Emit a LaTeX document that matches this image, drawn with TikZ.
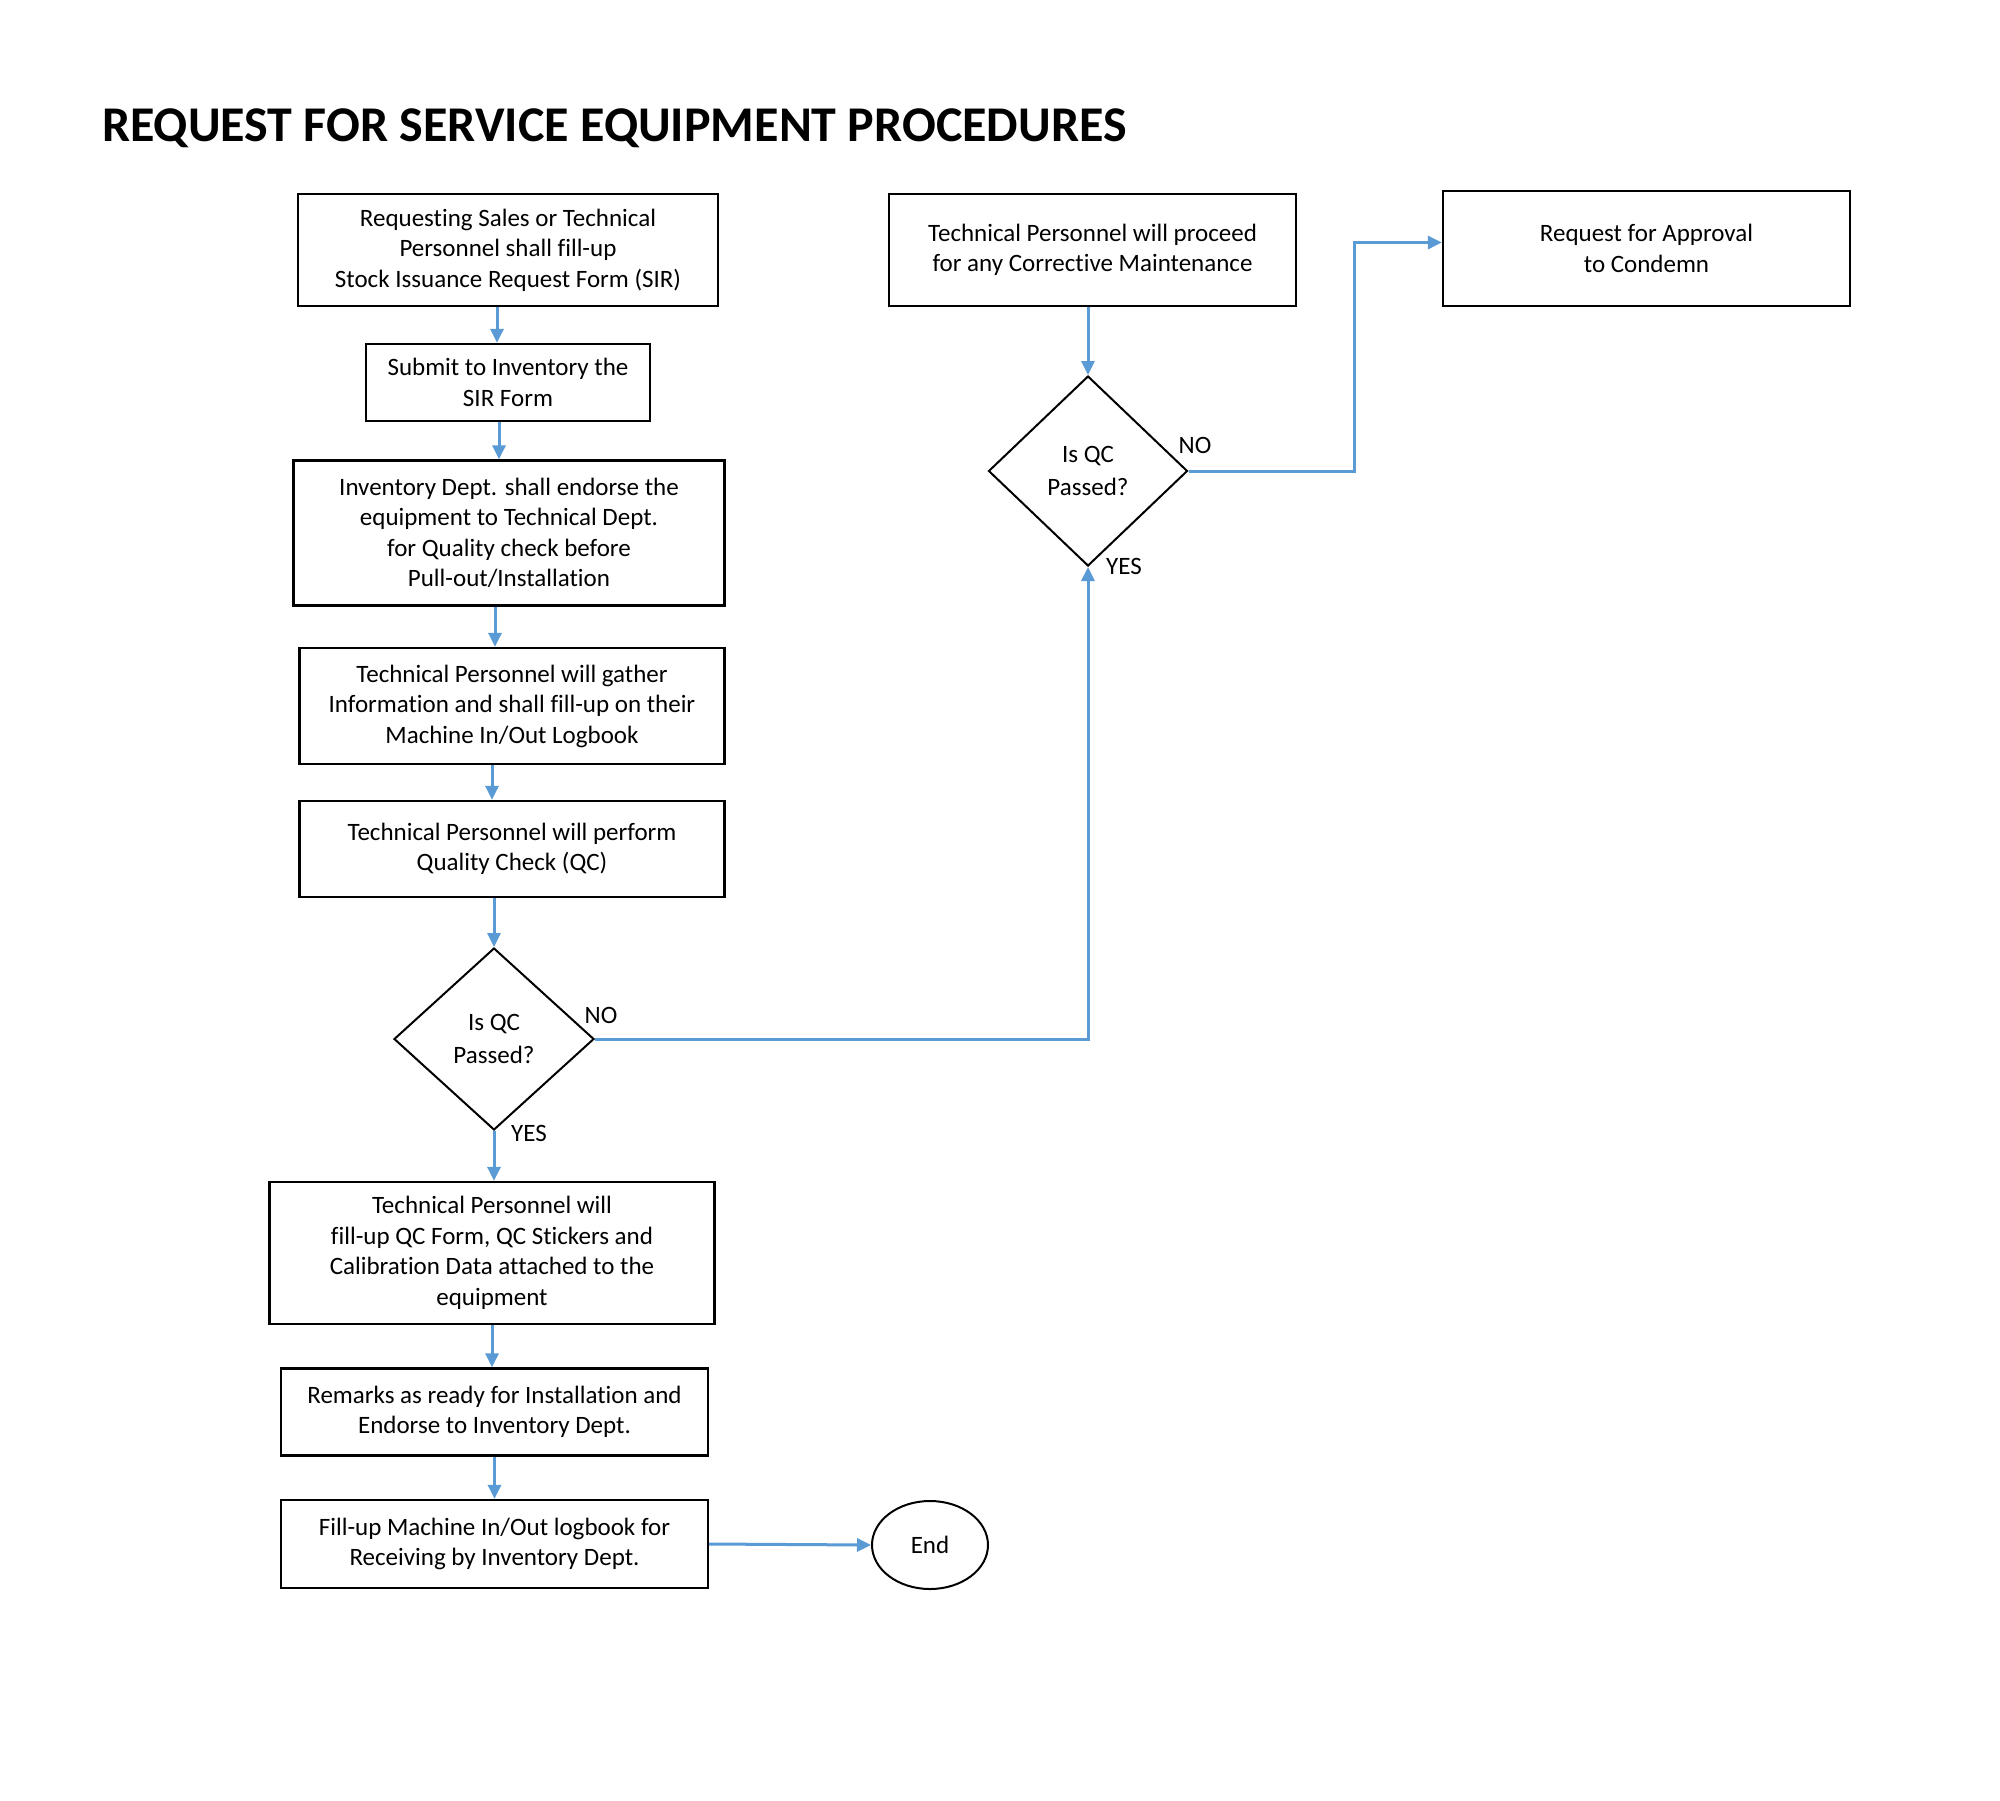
\documentclass[tikz,border=0pt]{standalone}
\usepackage{fontspec}
\setmainfont[Ligatures=NoCommon]{Carlito}
\usetikzlibrary{shapes.geometric,arrows.meta}
\definecolor{lineblue}{HTML}{5B9BD5}
\tikzset{
  box/.style={draw=black,line width=2.3pt,rectangle,inner sep=0pt,align=center,
    font=\fontsize{25}{30.5}\selectfont},
  dec/.style={draw=black,line width=2pt,diamond,inner sep=0pt,align=center,
    font=\fontsize{25}{33}\selectfont},
  term/.style={draw=black,line width=2pt,ellipse,inner sep=0pt,
    font=\fontsize{25}{30.5}\selectfont},
  lbl/.style={inner sep=0pt,font=\fontsize{25}{30.5}\selectfont},
  arr/.style={draw=lineblue,line width=3pt,-{Triangle[length=14pt,width=13pt]}},
}
\begin{document}
\begin{tikzpicture}[x=1pt,y=-1pt]
\useasboundingbox[fill=white] (0,0) rectangle (2000,1800);

\node[anchor=west,inner sep=0pt,font=\fontsize{50}{55}\selectfont\bfseries] (title) at (102,128)
  {REQUEST FOR SERVICE EQUIPMENT PROCEDURES};

\node[box,minimum width=420pt,minimum height=112pt] (b1) at (508,250)
  {Requesting Sales or Technical\\Personnel shall fill-up\\Stock Issuance Request Form (SIR)};
\node[box,minimum width=284pt,minimum height=77pt] (b2) at (508,382.5)
  {Submit to Inventory the\\SIR Form};
\node[box,minimum width=431pt,minimum height=145pt] (b3) at (509,533)
  {Inventory Dept. shall endorse the\\equipment to Technical Dept.\\for Quality check before\\Pull-out/Installation};
\node[box,minimum width=425pt,minimum height=116pt] (b4) at (512,706)
  {Technical Personnel will gather\\Information and shall fill-up on their\\Machine In/Out Logbook};
\node[box,minimum width=425pt,minimum height=96pt] (b5) at (512,849)
  {Technical Personnel will perform\\Quality Check (QC)};
\node[dec,minimum width=200pt,minimum height=182pt] (d1) at (494,1039)
  {Is QC\\Passed?};
\node[box,minimum width=445pt,minimum height=142pt] (b6) at (492,1253)
  {Technical Personnel will\\fill-up QC Form, QC Stickers and\\Calibration Data attached to the\\equipment};
\node[box,minimum width=427pt,minimum height=87pt] (b7) at (494.5,1412)
  {Remarks as ready for Installation and\\Endorse to Inventory Dept.};
\node[box,minimum width=427pt,minimum height=88pt] (b8) at (494.5,1544)
  {Fill-up Machine In/Out logbook for\\Receiving by Inventory Dept.};
\node[term,minimum width=116pt,minimum height=88pt] (end) at (930,1545) {End};

\node[box,minimum width=407pt,minimum height=112pt] (tp) at (1092.5,250)
  {Technical Personnel will proceed\\for any Corrective Maintenance};
\node[dec,minimum width=199pt,minimum height=190pt] (d2) at (1088,471)
  {Is QC\\Passed?};
\node[box,minimum width=407pt,minimum height=115pt] (req) at (1646.5,248.5)
  {Request for Approval\\to Condemn};

\node[lbl] (no1) at (601,1015) {NO};
\node[lbl] (yes1) at (529,1133) {YES};
\node[lbl] (no2) at (1195,445) {NO};
\node[lbl] (yes2) at (1124,566) {YES};

\draw[arr] ([xshift=-11pt]b1.south) -- ([xshift=-11pt]b1.south |- b2.north);
\draw[arr] ([xshift=-9pt]b2.south) -- ([xshift=-9pt]b2.south |- b3.north);
\draw[arr] ([xshift=-14pt]b3.south) -- ([xshift=-14pt]b3.south |- b4.north);
\draw[arr] ([xshift=-20pt]b4.south) -- ([xshift=-20pt]b4.south |- b5.north);
\draw[arr] (b5.south -| d1.north) -- (d1.north);
\draw[arr] (d1.south) -- (d1.south |- b6.north);
\draw[arr] (b6.south) -- (b6.south |- b7.north);
\draw[arr] (b7.south) -- (b7.south |- b8.north);
\draw[arr] (b8.east) -- (end.west);
\draw[arr] (d1.east) -| (d2.south);
\draw[arr] (tp.south -| d2.north) -- (d2.north);
\draw[arr] (d2.east) -- ++(165.5,0) |- ([yshift=6pt]req.west);
\end{tikzpicture}
\end{document}
